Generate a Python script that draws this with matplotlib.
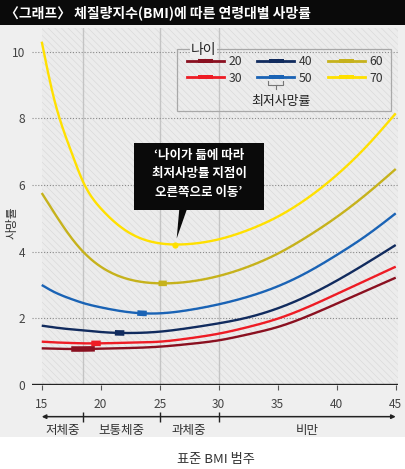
import numpy as np
import matplotlib
matplotlib.use('Agg')
import matplotlib.pyplot as plt
from matplotlib.lines import Line2D
from matplotlib.patches import Rectangle, Polygon

plt.rcParams['font.family'] = ['Noto Sans CJK KR', 'DejaVu Sans']
plt.rcParams['hatch.linewidth'] = 0.45

# ---------------- data ----------------
title = '〈그래프〉 체질량지수(BMI)에 따른 연령대별 사망률'
ages = ['20', '30', '40', '50', '60', '70']
bmi = [15, 16, 17.5, 18.5, 20, 22.5, 25, 27.5, 30, 32.5, 35, 37.5, 40, 42.5, 45]
rate_20 = [1.10, 1.09, 1.08, 1.08, 1.09, 1.11, 1.15, 1.23, 1.34, 1.52, 1.74, 2.06, 2.44, 2.83, 3.22]
rate_30 = [1.30, 1.28, 1.26, 1.25, 1.25, 1.27, 1.30, 1.40, 1.54, 1.74, 1.99, 2.33, 2.73, 3.14, 3.55]
rate_40 = [1.78, 1.73, 1.67, 1.64, 1.59, 1.56, 1.60, 1.71, 1.85, 2.03, 2.30, 2.67, 3.13, 3.65, 4.20]
rate_50 = [3.00, 2.80, 2.58, 2.46, 2.33, 2.18, 2.15, 2.25, 2.42, 2.65, 2.96, 3.38, 3.90, 4.48, 5.15]
rate_60 = [5.76, 5.20, 4.42, 4.00, 3.55, 3.16, 3.05, 3.10, 3.27, 3.55, 3.94, 4.45, 5.04, 5.72, 6.48]
rate_70 = [10.30, 8.65, 7.00, 6.10, 5.30, 4.55, 4.25, 4.23, 4.37, 4.65, 5.05, 5.60, 6.30, 7.15, 8.15]
rates = [rate_20, rate_30, rate_40, rate_50, rate_60, rate_70]
# BMI range of lowest mortality for each age group
min_lo = [17.5, 19.2, 21.2, 23.1, 24.9, 26.3]
min_hi = [19.5, 20.0, 22.0, 23.9, 25.6, 26.3]

xticks = [15, 20, 25, 30, 35, 40, 45]
yticks = [0, 2, 4, 6, 8, 10]
cat_bounds = [15, 18.5, 25, 30, 45]
cat_names = ['저체중', '보통체중', '과체중', '비만']
legend_title = '나이'
legend_note = '최저사망률'
callout = ['‘나이가 듦에 따라', '최저사망률 지점이', '오른쪽으로 이동’']
ylabel = '사망률'
xlabel = '표준 BMI 범주'

colors = ['#8a1020', '#ee1c25', '#112b5e', '#1a63b5', '#c6b21c', '#ffe000']

# ---------------- helpers ----------------
def spline(x, y, xs):
    x = np.asarray(x, float); y = np.asarray(y, float); xs = np.asarray(xs, float)
    n = len(x); h = np.diff(x)
    A = np.zeros((n, n)); b = np.zeros(n)
    A[0, 0] = 1; A[-1, -1] = 1
    for i in range(1, n - 1):
        A[i, i - 1] = h[i - 1]; A[i, i] = 2 * (h[i - 1] + h[i]); A[i, i + 1] = h[i]
        b[i] = 3 * ((y[i + 1] - y[i]) / h[i] - (y[i] - y[i - 1]) / h[i - 1])
    c = np.linalg.solve(A, b)
    bc = (y[1:] - y[:-1]) / h - h * (2 * c[:-1] + c[1:]) / 3
    d = (c[1:] - c[:-1]) / (3 * h)
    idx = np.clip(np.searchsorted(x, xs) - 1, 0, n - 2)
    dx = xs - x[idx]
    return y[idx] + bc[idx] * dx + c[idx] * dx ** 2 + d[idx] * dx ** 3

W, H = 405, 469
fig = plt.figure(figsize=(W / 100, H / 100), dpi=100)
fig.patch.set_facecolor('white')
def fx(x): return x / W
def fy(y): return 1 - y / H

# background panels
fig.patches.append(Rectangle((0, fy(437)), 1, fy(25) - fy(437), transform=fig.transFigure,
                             facecolor='#efefef', edgecolor='none', zorder=-10))
fig.patches.append(Rectangle((0, fy(25)), 1, 1 - fy(25), transform=fig.transFigure,
                             facecolor='#0a0a0a', edgecolor='none', zorder=-10))
fig.text(fx(5), fy(13), title, color='white', fontsize=10, fontweight='bold',
         ha='left', va='center')

ax = fig.add_axes([fx(31.7), fy(385), fx(397.5) - fx(31.7), fy(28) - fy(385)])
ax.set_zorder(1)
ax.set_xlim(14.15, 45.15)
ax.set_ylim(0, 10.71)
ax.patch.set_visible(False)
for s in ax.spines.values():
    s.set_visible(False)

ax.add_patch(Rectangle((15, 0), 45.15 - 15, 10.71, facecolor='#ececec', edgecolor='#d9d9d9',
                       hatch='\\\\\\\\\\', linewidth=0, zorder=0))

ax.set_yticks(yticks)
ax.set_xticks(xticks)
ax.set_axisbelow(False)
ax.grid(axis='y', color='#8a8a8a', linestyle=(0, (1, 1.6)), linewidth=0.8, zorder=1)
ax.grid(axis='x', visible=False)
for b in cat_bounds[1:-1]:
    ax.axvline(b, color='#c4c4c4', lw=1.0, zorder=1)
ax.axhline(0, color='#222222', lw=1.7, zorder=4)

ax.tick_params(axis='y', length=0, pad=4.5, labelsize=8.6, labelcolor='#444444')
ax.tick_params(axis='x', length=3.5, width=0.8, color='#555555', pad=6, labelsize=8.6,
               labelcolor='#444444')
fig.text(fx(12), fy(223), ylabel, rotation=90, ha='center', va='center', fontsize=8.5,
         color='#333333')

# curves
xs = np.linspace(bmi[0], bmi[-1], 400)
for r, c in zip(rates, colors):
    ax.plot(xs, spline(bmi, r, xs), color=c, lw=1.7, zorder=3, solid_capstyle='butt')
for r, c, lo, hi in zip(rates, colors, min_lo, min_hi):
    if hi > lo:
        seg = np.linspace(lo, hi, 30)
        ax.plot(seg, spline(bmi, r, seg), color=c, lw=4, zorder=3.5, solid_capstyle='butt')
    else:
        ax.plot([lo], spline(bmi, r, [lo]), 'o', color=c, ms=4.5, mew=0, zorder=3.5)

# category ranges below axis
ax.annotate('', xy=(cat_bounds[0], -0.95), xytext=(cat_bounds[-1], -0.95),
            arrowprops=dict(arrowstyle='<|-|>', color='#222222', lw=1.1, mutation_scale=6,
                            shrinkA=0, shrinkB=0), annotation_clip=False)
ax.vlines(cat_bounds[1:-1], -1.1, -0.8, color='#222222', lw=1.0, clip_on=False)
for a, b, name in zip(cat_bounds[:-1], cat_bounds[1:], cat_names):
    ax.text((a + b) / 2, -1.36, name, ha='center', va='center', fontsize=9,
            color='#333333', clip_on=False)
fig.text(fx(216), fy(459), xlabel, ha='center', va='center', fontsize=9.5, color='#333333')

# legend
rect = [(-1, -0.33), (1, -0.33), (1, 0.33), (-1, 0.33), (-1, -0.33)]
handles = [Line2D([], [], color=c, lw=2.0, marker=rect, markersize=10.8, mew=0, mfc=c)
           for c in colors]
leg = ax.legend(handles, ages, ncol=3, loc='upper left', bbox_to_anchor=(fx(187), fy(55)),
                bbox_transform=fig.transFigure, frameon=False, fontsize=8.8, handlelength=3.0,
                handletextpad=0.4, columnspacing=1.25, labelspacing=0.3, borderpad=0,
                borderaxespad=0, numpoints=1)
for t in leg.get_texts():
    t.set_color('#333333')
leg.set_zorder(6)
fig.patches.append(Rectangle((fx(176.7), fy(111)), fx(390.7) - fx(176.7), fy(49.3) - fy(111),
                             transform=fig.transFigure, facecolor='none', edgecolor='#a8a8a8',
                             lw=0.9, zorder=5))
fig.text(fx(191), fy(50), legend_title, ha='left', va='center', fontsize=10, color='#222222',
         bbox=dict(facecolor='#eeeeee', edgecolor='none', pad=0.5), zorder=7)
fig.add_artist(Line2D([fx(268.3), fx(268.3), fx(282.7), fx(282.7)],
                      [fy(81.5), fy(85.5), fy(85.5), fy(81.5)], transform=fig.transFigure,
                      color='#777777', lw=0.8))
fig.add_artist(Line2D([fx(275.5), fx(275.5)], [fy(85.5), fy(89.5)], transform=fig.transFigure,
                      color='#777777', lw=0.8))
fig.text(fx(281), fy(101.5), legend_note, ha='center', va='center', fontsize=9.3, color='#222222')

# callout
fig.patches.append(Rectangle((fx(134), fy(210)), fx(264) - fx(134), fy(143.3) - fy(210),
                             transform=fig.transFigure, facecolor='#0a0a0a', edgecolor='none',
                             zorder=8))
fig.patches.append(Polygon([(fx(179.3), fy(209)), (fx(187), fy(209)), (fx(176.7), fy(238.5))],
                           closed=True, transform=fig.transFigure, facecolor='#0a0a0a',
                           edgecolor='none', zorder=8))
for i, line in enumerate(callout):
    fig.text(fx(199), fy(155.5 + 18.3 * i), line, ha='center', va='center', fontsize=9,
             fontweight='bold', color='white', zorder=9)

fig.savefig('out.png', dpi=100, facecolor='white')
